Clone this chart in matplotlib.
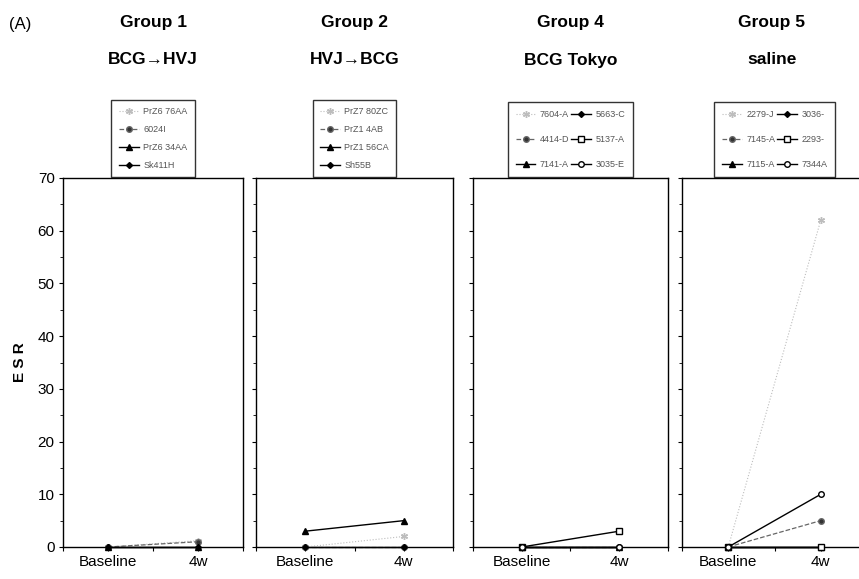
import matplotlib
matplotlib.use("Agg")
import matplotlib.pyplot as plt
from matplotlib.ticker import MultipleLocator

plt.rcParams['font.family'] = ['Liberation Sans', 'DejaVu Sans']

# ---- data -------------------------------------------------------------------
group_titles = ["Group 1", "Group 2", "Group 4", "Group 5"]
group_subtitles = ["BCG\u2192HVJ", "HVJ\u2192BCG", "BCG Tokyo", "saline"]
time_labels = ["Baseline", "4w"]

g1_labels = ["PrZ6 76AA", "6024I", "PrZ6 34AA", "Sk411H"]
g1_base = [0, 0, 0, 0]
g1_4w = [1.2, 1.0, 0, 0]

g2_labels = ["PrZ7 80ZC", "PrZ1 4AB", "PrZ1 56CA", "Sh55B"]
g2_base = [0, 0, 3, 0]
g2_4w = [2, 0, 5, 0]

# order: column 1 top->bottom, then column 2
g4_labels = ["7604-A", "4414-D", "7141-A", "5663-C", "5137-A", "3035-E"]
g4_base = [0, 0, 0, 0, 0, 0]
g4_4w = [0, 0, 0, 0, 3, 0]

g5_labels = ["2279-J", "7145-A", "7115-A", "3036-", "2293-", "7344A"]
g5_base = [0, 0, 0, 0, 0, 0]
g5_4w = [62, 5, 0, 0, 0, 10]

# ---- styles -----------------------------------------------------------------
STY = {
    'ast': dict(marker=(6, 2, 0), color='#bdbdbd', ls=':', lw=0.8, ms=5, mfc='#bdbdbd'),
    'dot': dict(marker='o', color='#666666', ls='--', lw=0.9, ms=4, mfc='#333333'),
    'tri': dict(marker='^', color='black', ls='-', lw=1.0, ms=4, mfc='black'),
    'dia': dict(marker='D', color='black', ls='-', lw=1.0, ms=3, mfc='black'),
    'sq': dict(marker='s', color='black', ls='-', lw=1.0, ms=4, mfc='white'),
    'oc': dict(marker='o', color='black', ls='-', lw=1.0, ms=4, mfc='white'),
}
g1_sty = ['ast', 'dot', 'tri', 'dia']
g2_sty = ['ast', 'dot', 'tri', 'dia']
g4_sty = ['ast', 'dot', 'tri', 'dia', 'sq', 'oc']
g5_sty = ['ast', 'dot', 'tri', 'dia', 'sq', 'oc']

groups = [
    (g1_labels, g1_base, g1_4w, g1_sty, 1),
    (g2_labels, g2_base, g2_4w, g2_sty, 1),
    (g4_labels, g4_base, g4_4w, g4_sty, 2),
    (g5_labels, g5_base, g5_4w, g5_sty, 2),
]

W, H = 859, 579
panels_px = [(63, 243), (256, 453), (473, 668), (682, 867)]
top_px, bot_px = 178, 547

fig = plt.figure(figsize=(W / 100, H / 100), dpi=100)
fig.text(20 / W, 1 - 25 / H, "(A)", fontsize=12, ha='center', va='center')

for i, (labels, base, w4, sty, ncol) in enumerate(groups):
    x0, x1 = panels_px[i]
    ax = fig.add_axes([x0 / W, 1 - bot_px / H, (x1 - x0) / W, (bot_px - top_px) / H])
    handles = []
    for lab, b, v, s in zip(labels, base, w4, sty):
        h, = ax.plot([1, 3], [b, v], clip_on=False, zorder=3, **STY[s])
        handles.append(h)
    ax.set_xlim(0, 4)
    ax.set_ylim(0, 70)
    ax.set_xticks([0, 1, 2, 3, 4])
    ax.set_xticklabels(['', time_labels[0], '', time_labels[1], ''], fontsize=11)
    ax.yaxis.set_major_locator(MultipleLocator(10))
    ax.yaxis.set_minor_locator(MultipleLocator(5))
    ax.tick_params(axis='both', direction='out', length=3, width=0.8, pad=3)
    ax.tick_params(axis='y', which='minor', direction='out', length=2, width=0.6)
    if i == 0:
        ax.tick_params(axis='y', labelsize=11)
        ax.set_ylabel("E S R", fontsize=11, fontweight='bold', labelpad=8)
    else:
        ax.set_yticklabels([])
    for sp in ax.spines.values():
        sp.set_linewidth(1.0)

    cx = (x0 + x1) / 2 if i < 3 else 772
    fig.text(cx / W, 1 - 22 / H, group_titles[i], fontsize=12.5, fontweight='bold',
             ha='center', va='center')
    fig.text(cx / W, 1 - 60 / H, group_subtitles[i], fontsize=12.5, fontweight='bold',
             ha='center', va='center')

    leg = ax.legend(handles, labels, loc='lower center', bbox_to_anchor=(0.5, 1.0),
                    ncol=ncol, fontsize=6.5, frameon=True, fancybox=False,
                    edgecolor='black', labelcolor='#555555', borderaxespad=0.1,
                    handlelength=2.2, handletextpad=0.5, columnspacing=0.2,
                    labelspacing=1.0 if ncol == 1 else 1.8,
                    borderpad=0.8 if ncol == 1 else 0.85)
    leg.get_frame().set_linewidth(1.0)

fig.savefig("out.png", dpi=100)
